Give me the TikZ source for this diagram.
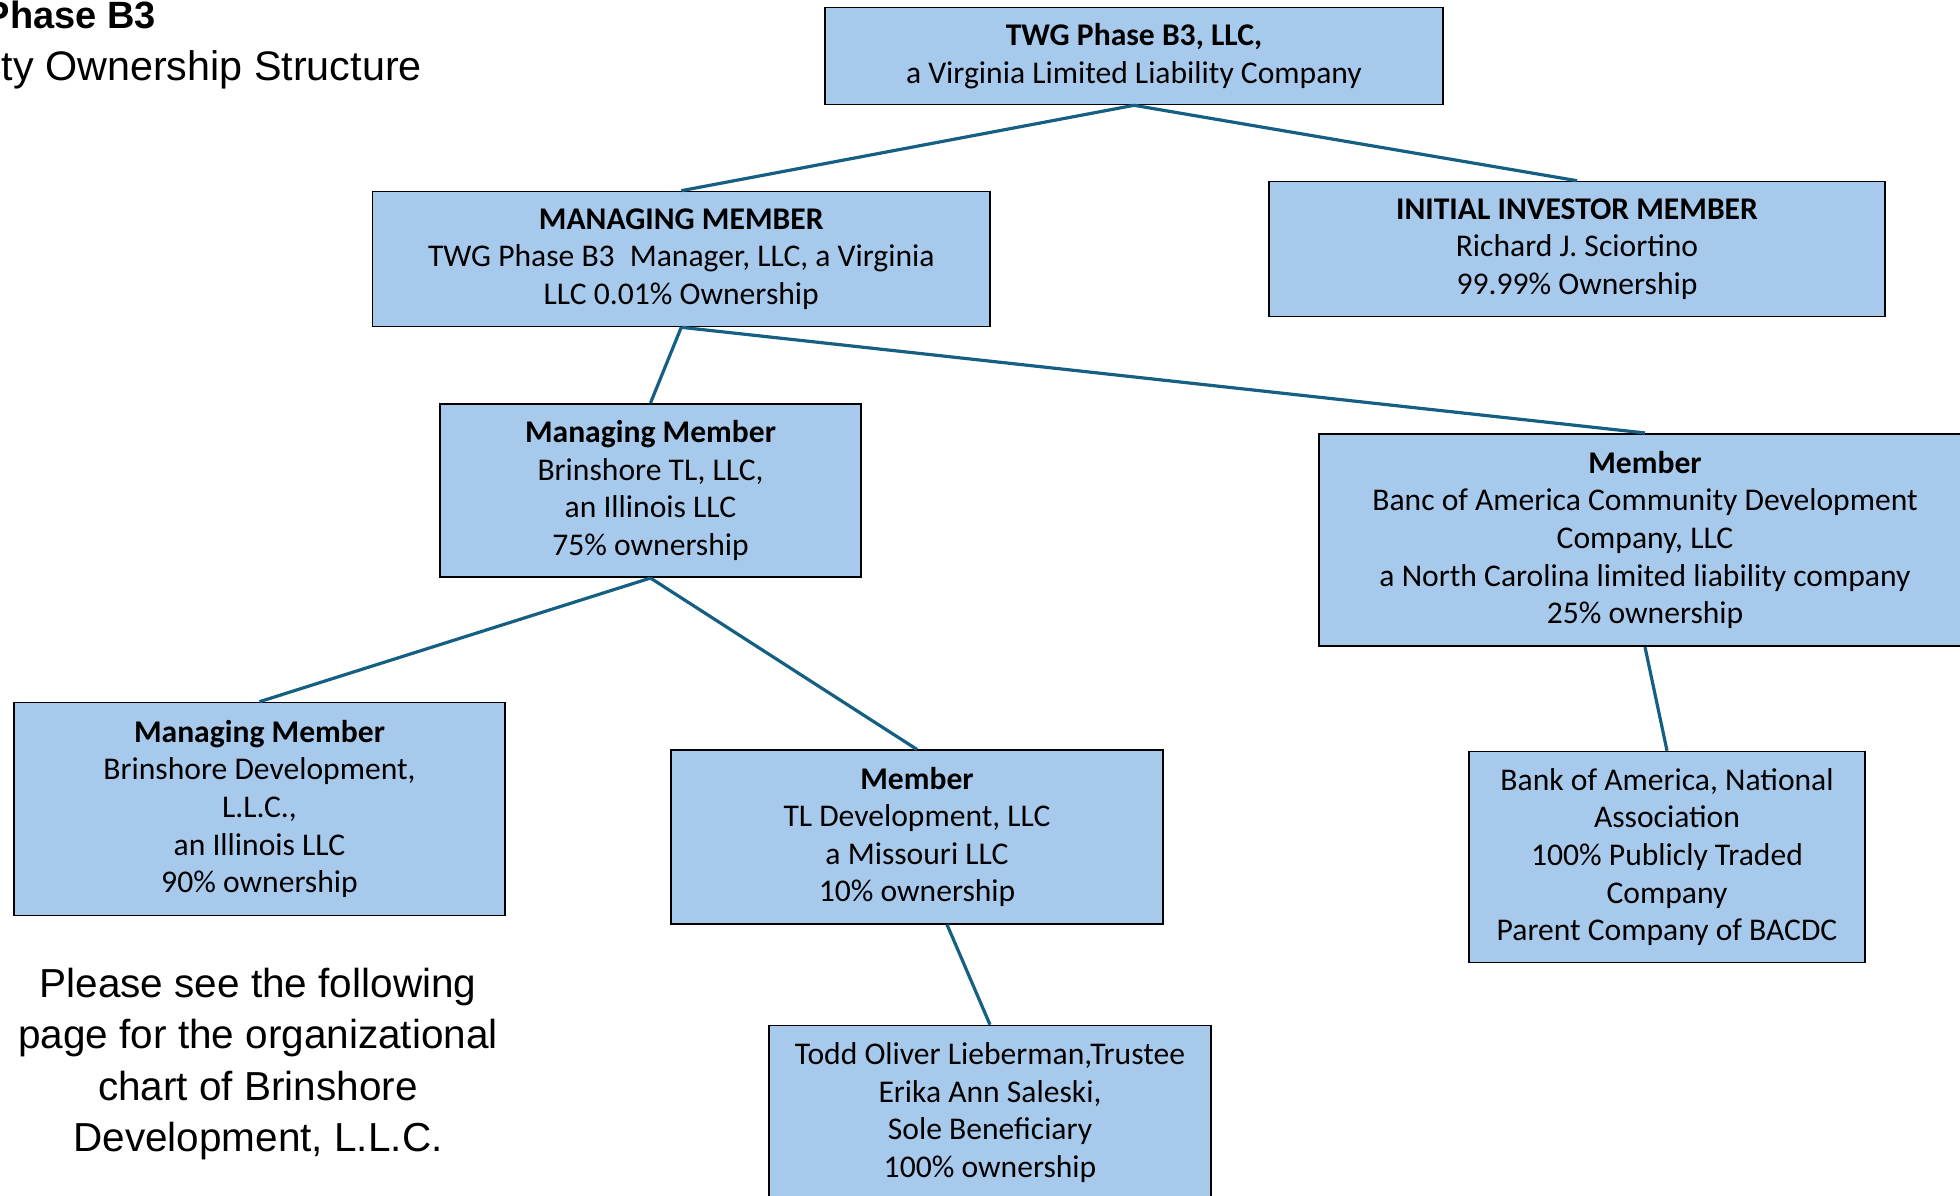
\documentclass[tikz,border=0pt]{standalone}
\usepackage{fontspec}
\setmainfont{Carlito}
\newfontfamily\titlefont{Liberation Sans}
\definecolor{boxblue}{HTML}{A7CAEC}
\definecolor{linkblue}{HTML}{156082}
\newcommand\boxfont{\fontsize{31.6}{37.6}\selectfont}
\tikzset{
  box/.style={draw=black, line width=1.6pt, fill=boxblue, inner sep=0pt,
              align=center, font=\boxfont},
  link/.style={draw=linkblue, line width=3.2pt},
}
\begin{document}
\begin{tikzpicture}[x=1pt,y=-1pt]
\useasboundingbox (0,0) rectangle (1960,1195);
% title
\node[anchor=base east, inner sep=0pt, font=\titlefont\bfseries\fontsize{38}{44}\selectfont] (t1) at (156,28) {Phase B3};
\node[anchor=base east, inner sep=0pt, font=\titlefont\fontsize{41.3}{48}\selectfont] (t2) at (422,80) {ty Ownership Structure};
% boxes
\node[box, minimum width=618, minimum height=97] (top) at (1134,56)
  {\textbf{TWG Phase B3, LLC,}\\a Virginia Limited Liability Company};
\node[box, minimum width=617.5, minimum height=135] (mm) at (681.25,259)
  {\textbf{MANAGING MEMBER}\\TWG Phase B3\hspace{0.25em} Manager, LLC, a Virginia\\LLC 0.01\% Ownership};
\node[box, minimum width=616, minimum height=135] (inv) at (1577,249)
  {\textbf{INITIAL INVESTOR MEMBER}\\Richard J. Sciortino\\99.99\% Ownership};
\node[box, minimum width=421, minimum height=173.5] (tl) at (650.5,490.5)
  {\textbf{Managing Member}\\Brinshore TL, LLC,\\an Illinois LLC\\75\% ownership};
\node[box, minimum width=652, minimum height=212.5] (cdc) at (1645,540)
  {\textbf{Member}\\Banc of America Community Development\\Company, LLC\\a North Carolina limited liability company\\25\% ownership};
\node[box, minimum width=491, minimum height=213] (dev) at (259.5,809)
  {\textbf{Managing Member}\\Brinshore Development,\\L.L.C.,\\an Illinois LLC\\90\% ownership};
\node[box, minimum width=492, minimum height=173.5] (tld) at (917,837)
  {\textbf{Member}\\TL Development, LLC\\a Missouri LLC\\10\% ownership};
\node[box, minimum width=442, minimum height=174] (todd) at (990,1112.5)
  {Todd Oliver Lieberman,Trustee\\Erika Ann Saleski,\\Sole Beneficiary\\100\% ownership};
\node[box, minimum width=396, minimum height=211] (bna) at (1667,857)
  {Bank of America, National\\Association\\100\% Publicly Traded\\Company\\Parent Company of BACDC};
% note
\node[align=center, inner sep=0pt, font=\titlefont\fontsize{40.5}{51.3}\selectfont] (note) at (258,1064)
  {Please see the following\\page for the organizational\\chart of Brinshore\\Development, L.L.C.};
% connectors
\draw[link] (top.south) -- (mm.north);
\draw[link] (top.south) -- (inv.north);
\draw[link] (mm.south) -- (tl.north);
\draw[link] (mm.south) -- (cdc.north);
\draw[link] (tl.south) -- (dev.north);
\draw[link] (tl.south) -- (tld.north);
\draw[link] ([xshift=30pt]tld.south) -- (todd.north);
\draw[link] (cdc.south) -- (bna.north);
\end{tikzpicture}
\end{document}
